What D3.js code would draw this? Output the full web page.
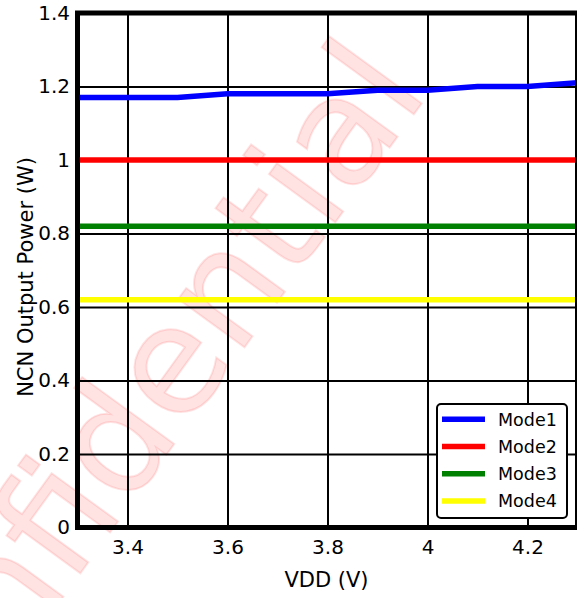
<!DOCTYPE html>
<html>
<head>
<meta charset="utf-8">
<script src="https://cdn.jsdelivr.net/npm/d3@7"></script>
<style>
  body { margin: 0; background: #fff; }
  svg { display: block; font-family: "DejaVu Sans", sans-serif; }
</style>
</head>
<body>
<svg id="chart" width="577" height="598"></svg>
<script>
const vdd = [3.3, 3.4, 3.5, 3.6, 3.7, 3.8, 3.9, 4.0, 4.1, 4.2, 4.3];
const mode1 = [1.17, 1.17, 1.17, 1.18, 1.18, 1.18, 1.19, 1.19, 1.20, 1.20, 1.21];
const mode2 = [1.0, 1.0, 1.0, 1.0, 1.0, 1.0, 1.0, 1.0, 1.0, 1.0, 1.0];
const mode3 = [0.82, 0.82, 0.82, 0.82, 0.82, 0.82, 0.82, 0.82, 0.82, 0.82, 0.82];
const mode4 = [0.62, 0.62, 0.62, 0.62, 0.62, 0.62, 0.62, 0.62, 0.62, 0.62, 0.62];
const seriesNames = ['Mode1', 'Mode2', 'Mode3', 'Mode4'];
const seriesColors = ['#0000ff', '#ff0000', '#008000', '#ffff00'];
const xTicks = [3.4, 3.6, 3.8, 4.0, 4.2];
const yTicks = [0, 0.2, 0.4, 0.6, 0.8, 1.0, 1.2, 1.4];

const svg = d3.select('#chart');
const plot = { left: 77.5, right: 577.5, top: 13, bottom: 527.5 };

const xScale = d3.scaleLinear().domain([3.3, 4.3]).range([plot.left, plot.right]);
const yScale = d3.scaleLinear().domain([0, 1.4]).range([plot.bottom, plot.top]);

const series = [mode1, mode2, mode3, mode4].map((vals, i) => ({
    name: seriesNames[i],
    color: seriesColors[i],
    values: vals.map((v, j) => ({ x: vdd[j], y: v }))
}));

// watermark sits behind everything, anchored at the end of the word
svg.append('text')
    .text('Confidential')
    .attr('transform', 'translate(430,92) rotate(-54)')
    .attr('text-anchor', 'end')
    .attr('font-size', 150)
    .attr('fill', 'rgb(255,0,0)')
    .attr('fill-opacity', 0.11)
    .attr('stroke', 'rgb(255,0,0)')
    .attr('stroke-opacity', 0.11)
    .attr('stroke-width', 2)
    .attr('paint-order', 'stroke')

drawGrid()
drawLines()
drawFrame()
drawLabels()
drawLegend()

function drawGrid() {
    const g = svg.append('g').attr('class', 'grid');

    g.append('g')
        .attr('transform', 'translate(0,' + plot.bottom + ')')
        .call(d3.axisBottom(xScale).tickValues(xTicks).tickSize(-(plot.bottom - plot.top)).tickFormat(d3.format('')))
        .call(a => a.select('.domain').remove())
        .call(a => a.selectAll('.tick line').attr('stroke', '#000').attr('stroke-width', 2))
        .call(a => a.selectAll('.tick text')
            .attr('font-size', 20)
            .attr('fill', '#000')
            .attr('y', 0)
            .attr('dy', 0)
            .attr('transform', 'translate(0,26.5)'))

    g.append('g')
        .attr('transform', 'translate(' + plot.left + ',0)')
        .call(d3.axisLeft(yScale).tickValues(yTicks).tickSize(-(plot.right - plot.left)).tickFormat(d3.format('')))
        .call(a => a.select('.domain').remove())
        .call(a => a.selectAll('.tick line').attr('stroke', '#000').attr('stroke-width', 2))
        .call(a => a.selectAll('.tick text')
            .attr('font-size', 20)
            .attr('fill', '#000')
            .attr('x', -7.5))

    g.selectAll('text').attr('font-family', '"DejaVu Sans", sans-serif')
}

function drawLines() {
    const line = d3.line().x(d => xScale(d.x)).y(d => yScale(d.y));

    svg.append('g').attr('class', 'lines')
        .selectAll('path')
        .data(series)
        .enter()
        .append('path')
        .attr('d', d => line(d.values))
        .attr('fill', 'none')
        .attr('stroke', d => d.color)
        .attr('stroke-width', 5.5)
}

function drawFrame() {
    svg.append('rect')
        .attr('x', plot.left)
        .attr('y', plot.top)
        .attr('width', plot.right - plot.left)
        .attr('height', plot.bottom - plot.top)
        .attr('fill', 'none')
        .attr('stroke', '#000')
        .attr('stroke-width', 5)
}

function drawLabels() {
    svg.append('text')
        .text('VDD (V)')
        .attr('x', (plot.left + plot.right) / 2 - 1)
        .attr('y', 587)
        .attr('text-anchor', 'middle')
        .attr('font-size', 21)

    svg.append('text')
        .text('NCN Output Power (W)')
        .attr('transform', 'translate(33,' + 277 + '),rotate(-90)')
        .attr('text-anchor', 'middle')
        .attr('font-size', 21)
}

function drawLegend() {
    const lg = svg.append('g').attr('class', 'legend').attr('transform', 'translate(437,404)');

    lg.append('rect')
        .attr('width', 130)
        .attr('height', 114)
        .attr('rx', 4)
        .attr('fill', '#fff')
        .attr('stroke', '#000')
        .attr('stroke-width', 2)

    const rows = lg.selectAll('g.row')
        .data(series)
        .enter()
        .append('g')
        .attr('class', 'row')
        .attr('transform', (d, i) => 'translate(0,' + (15.3 + i * 27.2) + ')')

    rows.append('line')
        .attr('x1', 5).attr('x2', 48)
        .attr('stroke', d => d.color)
        .attr('stroke-width', 5.5)

    rows.append('text')
        .text(d => d.name)
        .attr('x', 61)
        .attr('y', 6.5)
        .attr('font-size', 17.5)
}
</script>
</body>
</html>
